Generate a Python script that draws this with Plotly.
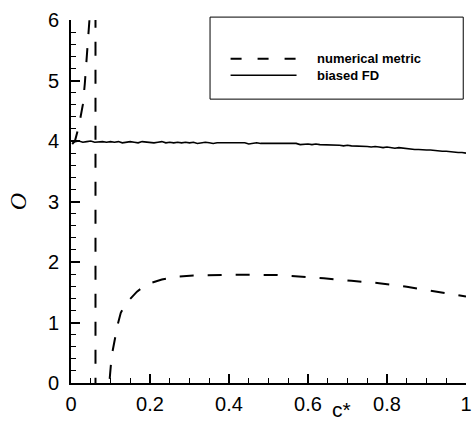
import plotly.graph_objects as go

# biased FD: sampled on c* = 0.00, 0.01, ..., 1.00
fd_x = [i / 100 for i in range(101)]
fd_y = [
    4.00, 3.99, 4.00, 3.98, 3.99, 4.00, 3.98, 3.99, 3.99, 3.98,
    3.99, 3.98, 3.99, 3.97, 3.98, 3.99, 3.98, 3.97, 3.99, 3.98,
    3.98, 3.97, 3.98, 3.99, 3.97, 3.98, 3.97, 3.98, 3.97, 3.98,
    3.97, 3.98, 3.96, 3.97, 3.98, 3.97, 3.96, 3.97, 3.97, 3.96,
    3.97, 3.96, 3.97, 3.96, 3.97, 3.95, 3.96, 3.97, 3.96, 3.96,
    3.96, 3.95, 3.96, 3.95, 3.96, 3.95, 3.95, 3.96, 3.94, 3.95,
    3.95, 3.94, 3.95, 3.94, 3.94, 3.93, 3.94, 3.93, 3.93, 3.92,
    3.93, 3.92, 3.92, 3.91, 3.92, 3.91, 3.90, 3.91, 3.90, 3.89,
    3.90, 3.89, 3.88, 3.89, 3.88, 3.87, 3.87, 3.86, 3.86, 3.85,
    3.85, 3.85, 3.84, 3.84, 3.83, 3.83, 3.82, 3.82, 3.81, 3.81,
    3.80,
]

# numerical metric: singular near c* = 0.062
nm_x = [0.003, 0.01, 0.02, 0.03, 0.035, 0.04, 0.045, 0.05, 0.055, 0.059,
        0.062, 0.062, 0.07, 0.08, 0.09, 0.097, 0.103, 0.11, 0.118, 0.126,
        0.135, 0.147, 0.167, 0.185, 0.2, 0.23, 0.27, 0.31, 0.354, 0.42,
        0.52, 0.58, 0.64, 0.71, 0.78, 0.85, 0.92, 1.0]
nm_y = [3.95, 4.0, 4.25, 4.6, 4.95, 5.35, 5.8, 6.3, 7.2, 9.0,
        30.0, -30.0, -2.5, -1.0, -0.3, 0.0, 0.45, 0.72, 0.96, 1.16,
        1.27, 1.37, 1.51, 1.6, 1.65, 1.71, 1.76, 1.775, 1.785, 1.79,
        1.785, 1.76, 1.73, 1.69, 1.65, 1.59, 1.52, 1.43]

x_ticks = [0, 0.2, 0.4, 0.6, 0.8, 1]
x_tick_text = ["0", "0.2", "0.4", "0.6", "0.8", "1"]
y_ticks = [0, 1, 2, 3, 4, 5, 6]
y_tick_text = ["0", "1", "2", "3", "4", "5", "6"]

series_names = ["numerical metric", "biased FD"]

FONT = "Liberation Sans, Arial, sans-serif"

fig = go.Figure()
fig.add_trace(go.Scatter(
    x=nm_x, y=nm_y, mode="lines", name=series_names[0],
    line=dict(color="black", width=2, dash="14px,14px"), showlegend=False,
))
fig.add_trace(go.Scatter(
    x=fd_x, y=fd_y, mode="lines", name=series_names[1],
    line=dict(color="black", width=1.6), showlegend=False,
))

axis_common = dict(
    showline=True, linecolor="black", linewidth=2,
    showgrid=False, zeroline=False,
    ticks="inside", ticklen=9, tickwidth=1.5, tickcolor="black",
    tickfont=dict(family=FONT, size=20, color="black"),
    ticklabeloverflow="allow",
)

fig.update_xaxes(
    range=[0, 1], tickvals=x_ticks, ticktext=x_tick_text,
    minor=dict(dtick=0.05, ticks="inside", ticklen=5, tickwidth=1.2, tickcolor="black"),
    ticklabelstandoff=2,
    **axis_common,
)
fig.update_yaxes(
    range=[0, 6], tickvals=y_ticks, ticktext=y_tick_text,
    minor=dict(dtick=0.2, ticks="inside", ticklen=5, tickwidth=1.2, tickcolor="black"),
    ticklabelstandoff=6,
    **axis_common,
)

# hand-drawn legend box
box = dict(x0=0.352, x1=0.993, y0=0.782, y1=1.008)
fig.add_shape(type="rect", xref="paper", yref="paper", **box,
              line=dict(color="black", width=1), fillcolor="white", layer="above")
legend_rows = [(0.893, "11px,16px"), (0.848, "solid")]
for (yy, dash), name in zip(legend_rows, series_names):
    fig.add_shape(type="line", xref="paper", yref="paper",
                  x0=0.404, x1=0.571, y0=yy, y1=yy,
                  line=dict(color="black", width=2 if dash != "solid" else 1.6, dash=dash),
                  layer="above")
    fig.add_annotation(x=0.618, y=yy, xref="paper", yref="paper",
                       text=f"<b>{name}</b>", showarrow=False,
                       xanchor="left", yanchor="middle",
                       font=dict(family=FONT, size=13, color="black"))

# axis titles
fig.add_annotation(x=0.686, y=-0.072, xref="paper", yref="paper",
                   text="c*", showarrow=False, xanchor="center", yanchor="middle",
                   font=dict(family=FONT, size=21, color="black"))
fig.add_annotation(x=-0.135, y=0.5, xref="paper", yref="paper",
                   text="<i>O</i>", showarrow=False, textangle=-90,
                   xanchor="center", yanchor="middle",
                   font=dict(family="Liberation Serif, Times New Roman, serif", size=24, color="black"))

fig.update_layout(
    width=474, height=421,
    margin=dict(l=71, r=2, t=20, b=38),
    paper_bgcolor="white", plot_bgcolor="white",
    showlegend=False,
)

fig.write_html("out.html")
